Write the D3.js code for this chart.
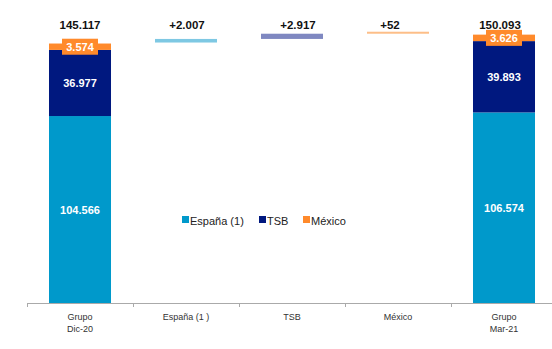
<!DOCTYPE html>
<html><head><meta charset="utf-8">
<script src="https://cdn.jsdelivr.net/npm/d3@7"></script>
<style>body{margin:0;background:#fff}svg{display:block;font-family:"Liberation Sans",Arial,sans-serif}</style>
</head><body><svg id="c" width="552" height="349"></svg>
<script>
const categories = ["Grupo\nDic-20", "España (1 )", "TSB", "México", "Grupo\nMar-21"];
const series = ["España (1)", "TSB", "México"];
const startValues = [104566, 36977, 3574];
const endValues = [106574, 39893, 3626];
const deltas = [2007, 2917, 52];
const totals = [145117, 150093];
const totalLabels = ["145.117", "150.093"];
const deltaLabels = ["+2.007", "+2.917", "+52"];
const segLabels = [["104.566", "36.977", "3.574"], ["106.574", "39.893", "3.626"]];
const colors = ["#0099CB", "#00187F", "#FF8A2B"];
const deltaColors = ["#7EC8E3", "#7F88C1", "#FDBE88"];

const svg = d3.select("#c");
const x = d3.scaleBand().domain(categories).range([27, 557]).paddingInner(0.415).paddingOuter(0.2075);
const y = d3.scaleLinear().domain([0, 169460]).range([303, 0]);

// axis
const axis = d3.axisBottom(x).tickSize(3).tickFormat("");
const gA = svg.append("g").attr("transform", "translate(0,303)").call(axis);
gA.select(".domain").remove();
gA.selectAll(".tick").remove();
svg.append("line").attr("x1", 27).attr("x2", 552).attr("y1", 303.5).attr("y2", 303.5).attr("stroke", "#aaa");
const step = x.step();
d3.range(5).forEach(i => {
  const tx = Math.round(x(categories[i]) - x.paddingOuter() * step) + 0.5;
  svg.append("line").attr("x1", tx).attr("x2", tx).attr("y1", 303).attr("y2", 307).attr("stroke", "#aaa");
});
categories.forEach(c => {
  const lines = c.split("\n");
  const t = svg.append("text").attr("x", x(c) + x.bandwidth() / 2).attr("y", 320)
    .attr("text-anchor", "middle").attr("font-size", 9).attr("fill", "#333");
  lines.forEach((l, i) => t.append("tspan").attr("x", x(c) + x.bandwidth() / 2).attr("dy", i ? 11.5 : 0).text(l));
});

// stacked total bars
[[categories[0], startValues, 0], [categories[4], endValues, 1]].forEach(([cat, vals, k]) => {
  let acc = 0;
  const cx = x(cat) + x.bandwidth() / 2;
  vals.forEach((v, i) => {
    const y0 = y(acc), y1 = y(acc + v);
    svg.append("rect").attr("x", x(cat)).attr("width", x.bandwidth())
      .attr("y", y1).attr("height", y0 - y1).attr("fill", colors[i]);
    acc += v;
  });
  acc = 0;
  vals.forEach((v, i) => {
    const mid = (y(acc) + y(acc + v)) / 2;
    acc += v;
    if (i === 2) {
      const w = 36;
      svg.append("rect").attr("x", cx - w / 2).attr("y", mid - 8).attr("width", w).attr("height", 16).attr("fill", colors[2]);
    }
    svg.append("text").attr("x", cx).attr("y", mid + 4).attr("text-anchor", "middle")
      .attr("font-size", 11).attr("font-weight", "bold").attr("fill", "#fff").text(segLabels[k][i]);
  });
  svg.append("text").attr("x", cx - (k ? 4 : 0)).attr("y", 29).attr("text-anchor", "middle")
    .attr("font-size", 11.5).attr("font-weight", "bold").attr("fill", "#111").text(totalLabels[k]);
});

// floating delta bars
let base = totals[0];
const labelOffsets = [1, 6, -8];
deltas.forEach((d, i) => {
  const cat = categories[i + 1];
  const y0 = y(base), y1 = y(base + d);
  const h = Math.max(2, y0 - y1);
  svg.append("rect").attr("x", x(cat)).attr("width", x.bandwidth())
    .attr("y", y0 - h - 1).attr("height", h).attr("fill", deltaColors[i]);
  svg.append("text").attr("x", x(cat) + x.bandwidth() / 2 + labelOffsets[i]).attr("y", 29).attr("text-anchor", "middle")
    .attr("font-size", 11.5).attr("font-weight", "bold").attr("fill", "#111").text(deltaLabels[i]);
  base += d;
});

// legend
const legX = [182, 259, 303];
series.forEach((s, i) => {
  svg.append("rect").attr("x", legX[i]).attr("y", 216).attr("width", 7).attr("height", 7).attr("fill", colors[i]);
  svg.append("text").attr("x", legX[i] + 8).attr("y", 224.5).attr("font-size", 11).attr("fill", "#222").text(s);
});
</script></body></html>
